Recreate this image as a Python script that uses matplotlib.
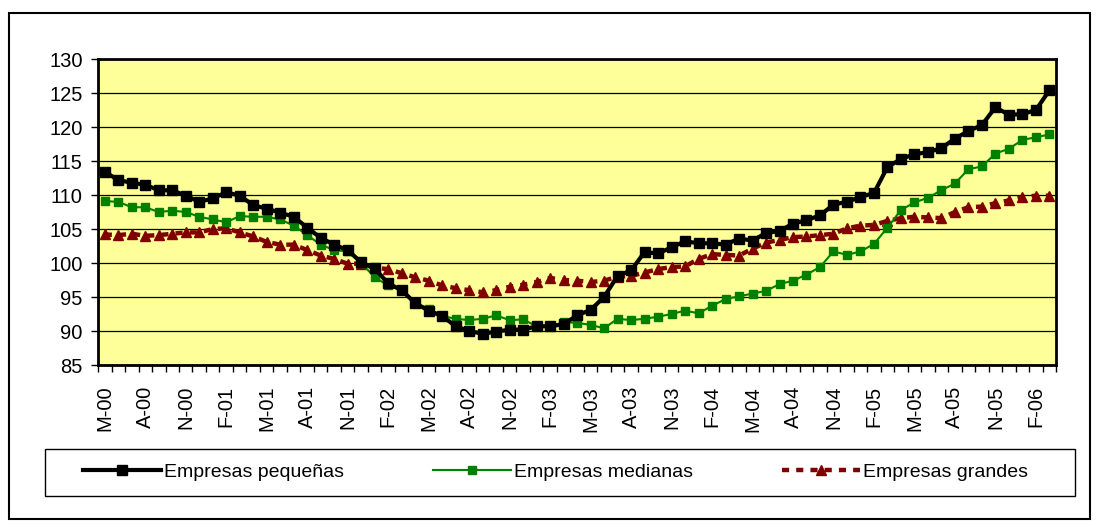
import numpy as np
import matplotlib
matplotlib.use("Agg")
import matplotlib.pyplot as plt
from matplotlib.patches import Rectangle

plt.rcParams["font.family"] = ["Liberation Sans", "DejaVu Sans"]

# meses desde mayo 2000 hasta marzo 2006
etiquetas = ["M-00", "A-00", "N-00", "F-01", "M-01", "A-01", "N-01", "F-02",
             "M-02", "A-02", "N-02", "F-03", "M-03", "A-03", "N-03", "F-04",
             "M-04", "A-04", "N-04", "F-05", "M-05", "A-05", "N-05", "F-06"]

pequenas = [113.4, 112.2, 111.8, 111.5, 110.7, 110.7, 109.9, 109.0, 109.5, 110.4,
            109.9, 108.5, 108.0, 107.4, 106.8, 105.2, 103.7, 102.7, 101.9, 100.1,
            99.2, 97.0, 96.0, 94.1, 93.0, 92.2, 90.7, 90.0, 89.6, 89.9,
            90.2, 90.2, 90.7, 90.7, 91.0, 92.3, 93.1, 95.0, 98.1, 98.9,
            101.6, 101.4, 102.3, 103.2, 102.9, 102.9, 102.7, 103.6, 103.3, 104.4,
            104.7, 105.8, 106.3, 107.0, 108.6, 109.0, 109.7, 110.3, 114.1, 115.3,
            116.0, 116.3, 116.9, 118.3, 119.4, 120.3, 122.9, 121.8, 121.9, 122.5,
            125.4]

medianas = [109.1, 109.0, 108.2, 108.2, 107.5, 107.7, 107.5, 106.8, 106.4, 106.0,
            106.9, 106.8, 106.8, 106.4, 105.5, 104.1, 102.7, 101.9, 101.7, 100.0,
            97.9, 96.7, 96.0, 94.1, 93.3, 92.2, 91.8, 91.6, 91.8, 92.3,
            91.6, 91.7, 90.7, 90.7, 91.3, 91.2, 90.9, 90.4, 91.8, 91.6,
            91.8, 92.1, 92.5, 93.0, 92.6, 93.7, 94.7, 95.1, 95.5, 95.9,
            96.9, 97.4, 98.3, 99.4, 101.7, 101.2, 101.7, 102.8, 105.2, 107.8,
            108.9, 109.6, 110.7, 111.7, 113.8, 114.2, 116.1, 116.8, 118.1, 118.5,
            118.9]

grandes = [104.2, 104.1, 104.3, 104.0, 104.1, 104.3, 104.5, 104.5, 105.0, 105.1,
           104.5, 103.9, 103.1, 102.7, 102.7, 101.9, 101.1, 100.6, 99.9, 99.9,
           99.3, 99.1, 98.5, 97.9, 97.4, 96.7, 96.3, 96.0, 95.7, 96.0,
           96.5, 96.8, 97.2, 97.8, 97.5, 97.4, 97.2, 97.4, 98.0, 98.1,
           98.6, 99.1, 99.4, 99.5, 100.6, 101.3, 101.2, 101.1, 102.1, 103.0,
           103.4, 103.8, 103.9, 104.1, 104.3, 105.1, 105.5, 105.6, 106.2, 106.6,
           106.8, 106.7, 106.6, 107.5, 108.2, 108.3, 108.8, 109.2, 109.7, 109.9,
           109.9]

x = np.arange(len(pequenas))

fig = plt.figure(figsize=(10.99, 5.27), dpi=100)
ax = fig.add_axes([0.0892, 0.3074, 0.8718, 0.5806])
ax.set_facecolor("#FFFF99")

ax.plot(x, pequenas, color="black", lw=3, marker="s", ms=6.5,
        label="Empresas pequeñas", zorder=4)
ax.plot(x, medianas, color="#008000", lw=1.5, marker="s", ms=6,
        label="Empresas medianas", zorder=3)
ax.plot(x, grandes, color="#800000", lw=3.2, dashes=(1.6, 1.6), marker="^", ms=6.5,
        label="Empresas grandes", zorder=2)

ax.set_ylim(85, 130)
ax.set_yticks(np.arange(85, 131, 5))
ax.set_xlim(-0.5, len(x) - 0.5)
ax.set_xticks(np.arange(-0.5, len(x), 1))
ax.set_xticklabels([])
ax.set_xticks(np.arange(0, len(x), 3), labels=etiquetas, minor=True)
ax.tick_params(axis="x", which="major", length=5, width=1, direction="out")
ax.tick_params(axis="x", which="minor", length=0, labelsize=14.5, rotation=90, pad=15)
ax.tick_params(axis="y", length=5, width=1, labelsize=14.5, pad=6)
ax.grid(axis="y", color="black", lw=0.9)
ax.set_axisbelow(True)
for s in ax.spines.values():
    s.set_linewidth(2)
    s.set_color("black")

# leyenda sin marco, el marco se dibuja aparte
leg = fig.legend(loc="center left", bbox_to_anchor=(0.0755, 0.1044),
                 ncol=3, fontsize=14, handlelength=4.0, handletextpad=0.15,
                 columnspacing=4.6, numpoints=1, frameon=False, borderaxespad=0,
                 borderpad=0)
fig.patches.append(Rectangle((0.041, 0.059), 0.937, 0.089, transform=fig.transFigure,
                             fill=False, edgecolor="black", lw=1))

fig.patches.append(Rectangle((0.008, 0.015), 0.984, 0.96, transform=fig.transFigure,
                             fill=False, edgecolor="black", lw=1.5))

fig.savefig("out.png", dpi=100)
